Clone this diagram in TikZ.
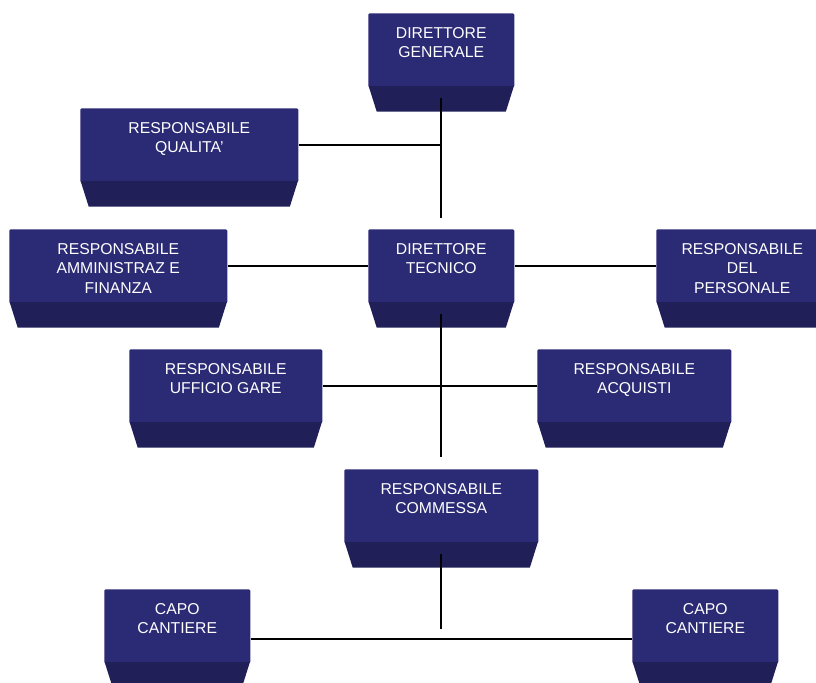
\documentclass[tikz,border=0pt]{standalone}
\usepackage{fontspec}
\setmainfont{Liberation Sans}

\definecolor{facecol}{RGB}{43,42,117}
\definecolor{shadecol}{RGB}{33,31,88}

\tikzset{
    face/.style={fill=facecol, rounded corners=1pt, inner sep=0pt, minimum height=55.5pt, anchor=north west},
    boxtext/.style={text=white, align=center, inner sep=0pt, anchor=north,
        font=\fontsize{11.8pt}{14.6pt}\selectfont},
    edge/.style={line width=1.2pt, black}
}

\begin{document}
\begin{tikzpicture}[x=0.75pt, y=-0.75pt]
        \useasboundingbox (0,0) rectangle (816,682);

        % place nodes
        \node[face, minimum width=109.5pt] at (368, 13)  (dg)  {};
        \node[face, minimum width=163.5pt] at (80, 108)  (rq)  {};
        \node[face, minimum width=163.5pt] at (9, 229)   (raf) {};
        \node[face, minimum width=109.5pt] at (368, 229) (dt)  {};
        \node[face, minimum width=129pt]   at (656, 229) (rp)  {};
        \node[face, minimum width=144.75pt] at (129, 349) (rug) {};
        \node[face, minimum width=145.5pt] at (537, 349) (ra)  {};
        \node[face, minimum width=145.5pt] at (344, 469) (rc)  {};
        \node[face, minimum width=109.5pt] at (104, 589) (cc1) {};
        \node[face, minimum width=109.5pt] at (632, 589) (cc2) {};

        % bottom bevels
        \foreach \n in {dg,rq,raf,dt,rp,rug,ra,rc,cc1,cc2}
            \fill[shadecol] ([xshift=0.5pt,yshift=1pt]\n.south west) -- ([xshift=-0.5pt,yshift=1pt]\n.south east)
                -- ([xshift=-6.5pt,yshift=-18pt]\n.south east)
                -- ([xshift=6.5pt,yshift=-18pt]\n.south west) -- cycle;

        % texts
        \node[boxtext] at ([yshift=-10.5pt]dg.north)  (dg text)  {DIRETTORE\\GENERALE};
        \node[boxtext] at ([yshift=-10.5pt]rq.north)  (rq text)  {RESPONSABILE\\QUALITA'};
        \node[boxtext] at ([yshift=-10.5pt]raf.north) (raf text) {RESPONSABILE\\AMMINISTRAZ E\\FINANZA};
        \node[boxtext] at ([yshift=-10.5pt]dt.north)  (dt text)  {DIRETTORE\\TECNICO};
        \node[boxtext] at ([yshift=-10.5pt]rp.north)  (rp text)  {RESPONSABILE\\DEL\\PERSONALE};
        \node[boxtext] at ([yshift=-10.5pt]rug.north) (rug text) {RESPONSABILE\\UFFICIO GARE};
        \node[boxtext] at ([yshift=-10.5pt]ra.north)  (ra text)  {RESPONSABILE\\ACQUISTI};
        \node[boxtext] at ([yshift=-10.5pt]rc.north)  (rc text)  {RESPONSABILE\\COMMESSA};
        \node[boxtext] at ([yshift=-10.5pt]cc1.north) (cc1 text) {CAPO\\CANTIERE};
        \node[boxtext] at ([yshift=-10.5pt]cc2.north) (cc2 text) {CAPO\\CANTIERE};

        % draw edges
        \coordinate (top end) at ([yshift=8.25pt]dt.north);
        \coordinate (mid end) at ([yshift=9pt]rc.north);
        \draw[edge] ([yshift=-7.5pt]dg.south) -- (top end);
        \draw[edge] (rq.east) -- (rq.east -| top end);
        \draw[edge] (raf.east) -- (dt.west);
        \draw[edge] (dt.east) -- (rp.west);
        \draw[edge] ([yshift=-7.5pt]dt.south) -- (mid end);
        \draw[edge] (rug.east) -- (ra.west);
        \draw[edge] ([yshift=-8pt]rc.south) -- ([yshift=-63.75pt]rc.south);
        \draw[edge] ([yshift=-9.75pt]cc1.east) -- ([yshift=-9.75pt]cc2.west);
    \end{tikzpicture}
\end{document}
